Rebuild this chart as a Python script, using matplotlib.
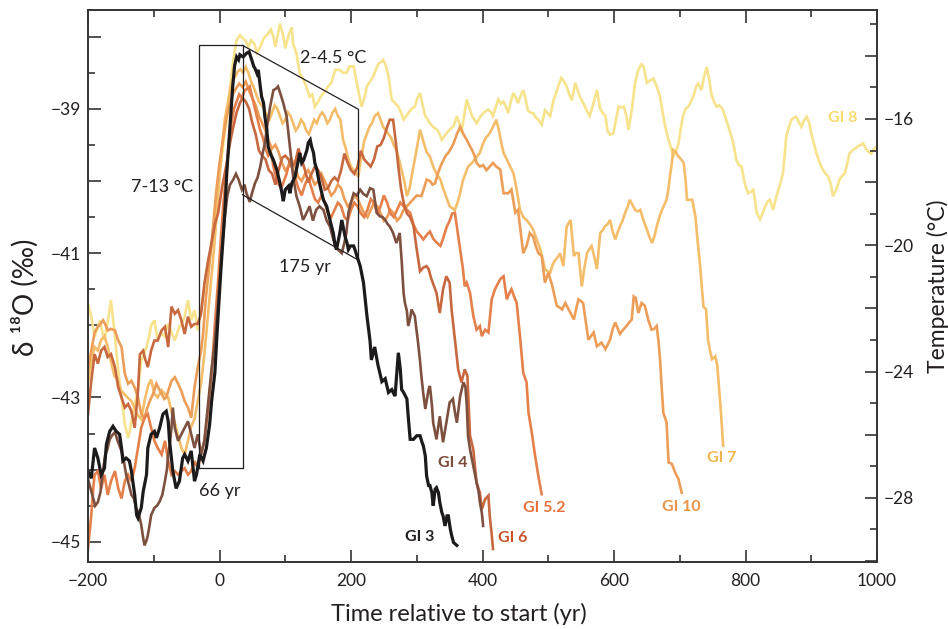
import numpy as np
import matplotlib
matplotlib.use("Agg")
import matplotlib.pyplot as plt
from matplotlib.ticker import MultipleLocator, FuncFormatter

plt.rcParams['font.family'] = ['Lato', 'DejaVu Sans']

# ---- data (time in yr, d18O in permil) ----
t3 = [-200, -195, -190, -185, -180, -175, -172, -167, -162, -157,
      -152, -149, -147, -142, -137, -134, -129, -126, -124, -119,
      -116, -111, -109, -104, -99, -96, -91, -86, -81, -78,
      -76, -71, -66, -61, -56, -53, -48, -43, -38, -35,
      -30, -25, -20, -15, -12, -7, -4, -1, 2, 5,
      8, 11, 14, 17, 20, 23, 26, 29, 31, 36,
      41, 45, 49, 52, 54, 57, 59, 62, 64, 67,
      69, 72, 74, 77, 82, 87, 92, 95, 97, 100,
      105, 107, 110, 115, 117, 120, 122, 125, 128, 133,
      135, 138, 140, 143, 145, 148, 150, 153, 158, 163,
      168, 173, 176, 178, 183, 186, 188, 191, 194, 196,
      199, 204, 206, 209, 214, 219, 224, 229, 231, 236,
      241, 247, 252, 257, 262, 264, 267, 270, 272, 275,
      277, 280, 285, 287, 290, 295, 300, 305, 308, 310,
      313, 315, 318, 320, 323, 325, 328, 330, 333, 335,
      338, 340, 343, 346, 348, 351, 353, 356, 361]
d3 = [-44.02, -44.12, -43.70, -43.84, -44.07, -43.98, -43.65, -43.47, -43.40, -43.47,
      -43.51, -43.70, -43.88, -43.84, -43.88, -44.02, -44.35, -44.63, -44.67, -44.53,
      -44.30, -44.07, -43.70, -43.51, -43.47, -43.56, -43.42, -43.23, -43.19, -43.33,
      -43.60, -44.02, -44.26, -44.16, -43.84, -43.79, -43.88, -43.74, -44.16, -44.07,
      -43.79, -43.88, -43.70, -43.37, -43.05, -42.65, -42.15, -41.70, -41.25, -40.85,
      -40.45, -39.90, -39.50, -39.10, -38.70, -38.40, -38.28, -38.32, -38.25, -38.28,
      -38.23, -38.21, -38.32, -38.41, -38.44, -38.51, -38.46, -38.69, -38.83, -38.92,
      -39.11, -39.29, -39.52, -39.61, -39.71, -39.84, -40.03, -40.17, -40.28, -40.12,
      -40.07, -40.17, -40.03, -39.94, -39.84, -39.71, -39.61, -39.75, -39.71, -39.57,
      -39.47, -39.43, -39.52, -39.61, -39.75, -39.84, -39.94, -40.07, -40.26, -40.35,
      -40.54, -40.72, -40.90, -40.95, -40.72, -40.54, -40.63, -40.77, -40.86, -40.95,
      -40.90, -40.90, -40.95, -41.04, -41.18, -41.41, -41.85, -42.22, -42.48, -42.30,
      -42.55, -42.78, -42.74, -42.93, -42.89, -42.93, -42.98, -42.61, -42.38, -42.61,
      -42.89, -42.93, -43.02, -43.26, -43.58, -43.58, -43.53, -43.53, -43.62, -43.67,
      -43.81, -44.09, -44.22, -44.22, -44.32, -44.50, -44.27, -44.25, -44.32, -44.45,
      -44.59, -44.64, -44.78, -44.64, -44.64, -44.82, -44.91, -45.01, -45.05]

t4 = [-200, -195, -189, -185, -181, -177, -174, -170, -167, -163,
      -159, -155, -150, -147, -142, -138, -134, -130, -127, -123,
      -119, -116, -114, -111, -109, -106, -104, -99, -95, -91,
      -87, -83, -80, -78, -75, -73, -71, -68, -63, -58,
      -53, -48, -43, -38, -33, -28, -23, -17, -12, -8,
      -4, 0, 4, 8, 12, 16, 21, 25, 29, 34,
      38, 41, 46, 50, 54, 58, 62, 66, 69, 73,
      77, 82, 86, 89, 93, 97, 102, 107, 112, 117,
      122, 127, 132, 137, 142, 147, 152, 158, 163, 168,
      173, 177, 180, 186, 190, 193, 196, 200, 204, 209,
      214, 219, 224, 229, 234, 239, 244, 248, 252, 256,
      259, 264, 269, 274, 277, 280, 282, 285, 287, 290,
      292, 297, 302, 305, 307, 310, 313, 318, 320, 323,
      325, 330, 335, 340, 345, 350, 355, 358, 361, 366,
      371, 374, 376, 378, 381, 386, 391, 394, 396, 399,
      401]
d4 = [-44.13, -44.30, -44.50, -44.45, -44.31, -44.00, -43.81, -43.70, -43.58, -43.52,
      -43.48, -43.60, -43.72, -43.80, -44.07, -44.20, -44.35, -44.40, -44.53, -44.60,
      -44.77, -44.95, -45.05, -44.98, -44.91, -44.75, -44.63, -44.53, -44.50, -44.44,
      -44.35, -44.16, -44.00, -43.79, -43.60, -43.42, -43.14, -43.42, -43.60, -43.51,
      -43.42, -43.33, -43.51, -43.70, -43.51, -43.79, -43.60, -43.05, -42.60, -42.30,
      -41.90, -41.40, -40.90, -40.50, -40.20, -40.05, -39.98, -39.90, -39.98, -40.12,
      -40.05, -40.17, -40.29, -40.15, -40.03, -39.95, -39.80, -39.60, -39.48, -39.20,
      -38.97, -38.74, -38.72, -38.69, -38.80, -38.92, -39.10, -39.52, -39.94, -40.21,
      -40.35, -40.54, -40.45, -40.35, -40.55, -40.40, -40.35, -40.40, -40.55, -40.63,
      -40.81, -40.92, -40.95, -41.00, -40.85, -40.72, -40.44, -40.30, -40.17, -40.20,
      -40.12, -40.18, -40.21, -40.10, -40.12, -40.44, -40.49, -40.50, -40.54, -40.60,
      -40.63, -40.72, -40.86, -40.72, -41.10, -41.55, -41.69, -41.80, -42.01, -41.90,
      -41.78, -41.87, -42.24, -42.50, -42.70, -42.95, -43.16, -42.89, -42.84, -43.10,
      -43.35, -43.58, -43.26, -43.62, -43.35, -43.07, -43.02, -43.20, -43.35, -42.98,
      -42.79, -42.85, -43.10, -43.53, -43.72, -43.95, -44.18, -44.30, -44.45, -44.60,
      -44.78]

t52 = [-200, -195, -192, -190, -185, -180, -175, -170, -165, -159,
       -154, -149, -144, -139, -134, -129, -124, -119, -114, -109,
       -104, -99, -94, -88, -83, -78, -73, -68, -63, -58,
       -53, -48, -43, -38, -33, -28, -23, -17, -12, -7,
       -2, 2, 6, 10, 14, 18, 22, 26, 30, 34,
       38, 42, 46, 50, 54, 58, 62, 66, 70, 74,
       78, 82, 86, 90, 94, 98, 102, 106, 110, 115,
       120, 125, 130, 135, 140, 145, 150, 155, 160, 165,
       170, 175, 180, 185, 190, 195, 200, 205, 210, 215,
       220, 225, 230, 235, 240, 245, 250, 255, 260, 265,
       270, 275, 280, 285, 290, 295, 300, 305, 310, 315,
       320, 325, 330, 336, 340, 345, 350, 354, 358, 362,
       366, 370, 373, 376, 381, 386, 391, 396, 399, 404,
       409, 414, 419, 424, 428, 432, 437, 441, 444, 448,
       452, 457, 462, 467, 470, 475, 480, 485, 490]
d52 = [-45.10, -44.63, -44.26, -44.07, -44.02, -44.26, -44.07, -44.35, -44.16, -44.02,
       -44.26, -44.40, -44.16, -44.07, -44.16, -43.98, -43.70, -43.42, -43.28, -43.23,
       -43.42, -43.60, -43.70, -43.79, -43.60, -43.88, -44.07, -44.02, -44.07, -44.02,
       -43.98, -44.07, -44.02, -43.88, -43.98, -43.79, -43.60, -43.14, -42.67, -41.98,
       -41.37, -40.80, -40.30, -39.90, -39.50, -39.20, -39.00, -38.90, -38.80, -38.85,
       -38.75, -38.72, -38.69, -38.85, -39.00, -39.15, -39.30, -39.40, -39.55, -39.65,
       -39.60, -39.80, -39.95, -40.05, -40.10, -40.00, -39.90, -39.75, -39.80, -39.95,
       -40.10, -40.20, -40.05, -39.95, -40.10, -40.25, -40.30, -40.20, -40.30, -40.45,
       -40.50, -40.40, -40.30, -40.35, -40.50, -40.55, -40.40, -40.30, -40.35, -40.45,
       -40.50, -40.40, -40.25, -40.30, -40.45, -40.35, -40.20, -40.30, -40.45, -40.50,
       -40.40, -40.30, -40.35, -40.40, -40.44, -40.60, -40.70, -40.75, -40.81, -40.75,
       -40.70, -40.80, -40.85, -40.90, -40.80, -40.65, -40.55, -40.45, -40.44, -40.70,
       -40.95, -41.20, -41.46, -41.41, -41.55, -41.87, -42.06, -42.01, -42.15, -42.06,
       -42.10, -41.64, -41.50, -41.41, -41.35, -41.32, -41.64, -41.55, -41.50, -41.60,
       -41.69, -42.15, -42.66, -42.79, -43.21, -43.49, -43.81, -44.09, -44.34]

t6 = [-200, -195, -190, -185, -180, -175, -170, -165, -159, -154,
      -149, -144, -139, -134, -129, -124, -121, -116, -114, -109,
      -104, -99, -94, -88, -83, -78, -73, -68, -63, -58,
      -53, -48, -43, -38, -33, -28, -23, -17, -12, -7,
      -2, 4, 11, 16, 21, 26, 31, 35, 40, 45,
      50, 55, 60, 65, 70, 75, 80, 85, 90, 95,
      100, 105, 110, 115, 120, 125, 130, 135, 140, 145,
      150, 155, 160, 165, 170, 175, 180, 185, 190, 195,
      200, 205, 210, 215, 220, 225, 230, 235, 240, 245,
      250, 255, 259, 264, 268, 272, 276, 280, 285, 290,
      295, 300, 305, 310, 315, 318, 322, 326, 330, 335,
      340, 345, 350, 353, 358, 363, 368, 373, 377, 381,
      386, 391, 396, 399, 404, 409, 411, 414, 416]
d6 = [-43.23, -42.77, -42.40, -42.53, -42.35, -42.30, -42.44, -42.40, -42.58, -42.86,
      -43.00, -43.14, -43.09, -43.19, -43.42, -42.91, -42.40, -42.35, -42.44, -42.58,
      -42.35, -42.21, -42.21, -42.07, -42.02, -42.30, -41.74, -41.84, -41.79, -41.93,
      -42.12, -41.88, -42.02, -41.98, -41.98, -41.84, -41.42, -41.09, -40.85, -40.60,
      -40.44, -40.08, -39.75, -39.47, -39.25, -39.05, -38.92, -38.85, -38.90, -39.00,
      -39.20, -39.35, -39.58, -39.65, -39.70, -39.85, -39.90, -40.05, -39.85, -39.68,
      -39.65, -39.70, -39.80, -39.75, -39.55, -39.70, -39.85, -40.02, -39.90, -39.80,
      -39.85, -39.95, -40.12, -40.10, -40.00, -39.95, -40.00, -39.85, -39.62, -39.75,
      -39.85, -39.90, -39.80, -39.58, -39.70, -39.75, -39.80, -39.70, -39.52, -39.50,
      -39.40, -39.25, -39.15, -39.15, -39.45, -39.80, -40.10, -40.30, -40.45, -40.50,
      -40.62, -40.95, -41.25, -41.20, -41.18, -41.22, -41.35, -41.45, -41.55, -41.83,
      -41.50, -41.32, -41.41, -41.78, -42.20, -42.61, -42.79, -42.61, -42.70, -43.53,
      -43.72, -44.18, -44.32, -44.55, -44.41, -44.36, -44.64, -44.90, -45.10]

t7 = [-200, -195, -190, -185, -180, -175, -170, -165, -160, -155,
      -150, -145, -140, -134, -129, -124, -119, -114, -109, -104,
      -99, -94, -88, -83, -78, -73, -68, -63, -58, -53,
      -48, -43, -38, -33, -28, -23, -18, -13, -8, -4,
      0, 4, 8, 12, 16, 20, 24, 28, 32, 36,
      40, 44, 48, 52, 56, 60, 64, 68, 72, 76,
      80, 84, 88, 92, 96, 100, 104, 108, 112, 116,
      120, 124, 128, 132, 136, 140, 144, 148, 152, 156,
      160, 164, 168, 172, 176, 180, 184, 188, 192, 196,
      200, 204, 208, 211, 215, 220, 224, 228, 232, 236,
      241, 245, 249, 253, 257, 261, 265, 269, 273, 277,
      281, 285, 289, 293, 297, 301, 305, 310, 315, 320,
      325, 330, 336, 340, 344, 350, 358, 362, 366, 370,
      374, 378, 384, 390, 396, 400, 405, 410, 416, 421,
      425, 428, 432, 437, 442, 447, 452, 457, 462, 467,
      472, 477, 482, 488, 492, 495, 499, 503, 507, 511,
      515, 518, 523, 528, 534, 539, 542, 546, 551, 555,
      559, 562, 566, 570, 574, 579, 583, 586, 590, 594,
      598, 602, 606, 609, 613, 617, 621, 624, 628, 632,
      636, 640, 645, 650, 654, 658, 662, 665, 669, 673,
      677, 680, 683, 685, 688, 690, 694, 698, 702, 706,
      709, 711, 715, 719, 724, 726, 731, 736, 740, 743,
      746, 749, 752, 754, 757, 760, 762, 766]
d7 = [-42.80, -42.50, -42.30, -42.35, -42.20, -42.15, -42.30, -42.50, -42.70, -42.75,
      -42.90, -42.95, -43.00, -43.05, -43.15, -43.25, -43.30, -43.05, -42.85, -42.75,
      -42.95, -43.00, -42.90, -42.95, -43.00, -43.20, -43.35, -43.53, -43.70, -43.79,
      -43.60, -43.40, -43.30, -43.05, -42.80, -42.40, -41.90, -41.40, -40.90, -40.40,
      -39.95, -39.50, -39.15, -38.95, -38.75, -38.60, -38.55, -38.48, -38.45, -38.50,
      -38.42, -38.50, -38.62, -38.70, -38.80, -38.90, -38.95, -39.00, -39.10, -39.15,
      -39.05, -38.95, -39.00, -39.10, -39.20, -39.15, -39.05, -39.10, -39.20, -39.30,
      -39.25, -39.15, -39.20, -39.30, -39.35, -39.25, -39.15, -39.20, -39.10, -39.05,
      -39.10, -39.20, -39.15, -39.05, -39.00, -39.10, -39.15, -39.43, -39.55, -39.70,
      -39.80, -39.85, -39.90, -39.94, -39.70, -39.45, -39.35, -39.25, -39.20, -39.10,
      -39.06, -39.15, -39.25, -39.30, -39.35, -39.40, -39.50, -39.57, -39.70, -39.85,
      -40.00, -40.21, -40.10, -39.90, -39.70, -39.50, -39.29, -39.45, -39.60, -39.66,
      -39.80, -39.90, -39.98, -40.10, -40.20, -40.35, -40.40, -40.30, -40.17, -40.00,
      -39.90, -39.80, -39.75, -39.68, -39.61, -39.50, -39.40, -39.35, -39.25, -39.15,
      -39.30, -39.45, -39.61, -39.70, -39.80, -39.89, -40.12, -40.40, -40.50, -40.54,
      -40.60, -40.67, -40.80, -40.95, -41.10, -41.22, -41.25, -41.27, -41.15, -41.09,
      -41.05, -41.00, -41.18, -40.63, -40.54, -41.04, -41.00, -41.00, -41.46, -41.20,
      -41.00, -40.95, -40.90, -41.05, -41.22, -40.72, -40.68, -40.63, -40.60, -40.54,
      -40.70, -40.81, -40.70, -40.63, -40.55, -40.44, -40.35, -40.26, -40.33, -40.40,
      -40.42, -40.40, -40.55, -40.67, -40.78, -40.86, -40.75, -40.63, -40.50, -40.40,
      -40.32, -40.26, -40.10, -39.94, -39.75, -39.57, -39.60, -39.66, -39.70, -39.75,
      -40.00, -40.26, -40.26, -40.26, -40.50, -40.72, -41.18, -41.74, -41.78, -42.20,
      -42.35, -42.47, -42.45, -42.43, -42.55, -42.90, -43.12, -43.67]

t8 = [-200, -195, -190, -186, -182, -178, -175, -170, -165, -160,
      -154, -149, -144, -139, -135, -132, -128, -124, -119, -115,
      -111, -107, -104, -99, -94, -89, -84, -78, -73, -68,
      -61, -56, -53, -48, -43, -38, -33, -28, -23, -17,
      -12, -7, -3, 0, 3, 7, 11, 15, 19, 23,
      26, 31, 35, 39, 44, 48, 53, 57, 62, 66,
      69, 74, 78, 82, 85, 89, 92, 96, 100, 105,
      110, 112, 117, 122, 127, 132, 137, 141, 145, 150,
      154, 158, 162, 165, 170, 176, 183, 188, 193, 198,
      204, 208, 211, 216, 221, 224, 229, 234, 238, 242,
      246, 249, 253, 257, 262, 267, 272, 276, 280, 284,
      287, 292, 297, 301, 305, 309, 313, 317, 320, 325,
      331, 335, 338, 342, 346, 351, 356, 361, 365, 368,
      372, 376, 380, 384, 388, 391, 396, 401, 405, 409,
      413, 416, 420, 424, 428, 432, 436, 439, 443, 447,
      451, 454, 458, 462, 466, 469, 473, 477, 481, 485,
      490, 495, 499, 503, 508, 512, 515, 520, 524, 528,
      532, 536, 541, 544, 548, 552, 556, 560, 563, 568,
      574, 579, 583, 587, 590, 594, 599, 603, 607, 611,
      615, 619, 622, 627, 632, 637, 642, 645, 650, 656,
      660, 665, 670, 674, 678, 682, 686, 690, 694, 698,
      702, 705, 709, 713, 717, 721, 725, 728, 733, 737,
      741, 745, 748, 752, 756, 760, 765, 771, 775, 779,
      783, 786, 790, 794, 797, 800, 804, 808, 812, 815,
      817, 822, 826, 830, 834, 837, 842, 846, 850, 854,
      857, 860, 862, 866, 870, 874, 877, 881, 885, 889,
      893, 897, 900, 904, 908, 913, 918, 922, 926, 930,
      933, 938, 943, 947, 951, 955, 958, 963, 967, 971,
      975, 979, 984, 988, 991, 995, 1000]
d8 = [-41.70, -41.88, -42.16, -42.05, -41.93, -42.10, -42.20, -41.95, -41.65, -42.07,
      -42.63, -43.00, -43.37, -43.56, -43.40, -43.23, -43.05, -42.90, -42.49, -42.40,
      -42.30, -42.15, -42.00, -41.93, -42.21, -42.10, -42.15, -41.98, -42.10, -42.21,
      -42.02, -41.95, -41.88, -41.65, -41.93, -41.79, -42.07, -41.79, -41.51, -41.09,
      -40.90, -40.77, -40.20, -39.90, -39.70, -39.40, -39.15, -38.80, -38.46, -38.20,
      -38.05, -37.98, -38.02, -38.05, -38.14, -38.05, -38.10, -38.22, -38.14, -38.05,
      -38.00, -37.96, -37.90, -38.00, -38.14, -37.96, -37.82, -37.95, -38.16, -37.98,
      -37.87, -38.10, -38.23, -38.51, -38.58, -38.69, -38.83, -38.80, -38.97, -38.90,
      -38.83, -38.78, -38.74, -38.69, -38.64, -38.46, -38.46, -38.50, -38.50, -38.41,
      -38.41, -38.60, -38.74, -38.97, -38.83, -38.69, -38.62, -38.55, -38.45, -38.37,
      -38.35, -38.32, -38.40, -38.55, -38.87, -38.92, -38.97, -39.05, -39.15, -39.10,
      -39.06, -39.00, -38.97, -38.85, -38.78, -38.95, -39.10, -39.15, -39.20, -39.25,
      -39.29, -39.35, -39.43, -39.38, -39.33, -39.28, -39.24, -39.10, -39.20, -39.33,
      -39.10, -38.87, -38.98, -39.10, -39.15, -39.20, -39.12, -39.06, -39.03, -39.01,
      -39.05, -39.10, -38.98, -38.87, -38.93, -38.90, -38.98, -39.06, -38.90, -38.78,
      -38.85, -38.92, -38.82, -38.74, -38.88, -39.02, -39.05, -39.06, -39.12, -39.15,
      -39.22, -39.02, -39.06, -39.10, -38.88, -38.78, -38.69, -38.57, -38.62, -38.69,
      -38.80, -38.88, -38.64, -38.72, -38.83, -38.90, -38.97, -39.05, -39.10, -38.95,
      -38.74, -39.00, -39.06, -39.10, -39.30, -39.36, -39.34, -39.15, -38.97, -38.98,
      -38.97, -39.10, -39.29, -39.02, -38.64, -38.46, -38.38, -38.41, -38.64, -38.60,
      -38.58, -38.69, -38.83, -39.05, -39.25, -39.40, -39.52, -39.66, -39.60, -39.48,
      -39.25, -39.10, -39.00, -38.97, -38.90, -38.82, -38.69, -38.65, -38.74, -38.55,
      -38.42, -38.60, -38.79, -38.90, -38.97, -38.95, -39.00, -39.16, -39.28, -39.39,
      -39.55, -39.71, -39.78, -39.80, -39.95, -40.07, -40.17, -40.15, -40.12, -40.30,
      -40.44, -40.53, -40.45, -40.35, -40.28, -40.26, -40.40, -40.25, -40.12, -40.00,
      -39.89, -39.60, -39.38, -39.25, -39.15, -39.12, -39.11, -39.18, -39.25, -39.16,
      -39.11, -39.20, -39.34, -39.48, -39.62, -39.75, -39.85, -39.90, -39.94, -40.05,
      -40.21, -40.12, -39.98, -39.93, -39.89, -39.75, -39.62, -39.57, -39.55, -39.52,
      -39.50, -39.48, -39.57, -39.60, -39.62, -39.56, -39.52]

t10 = [-200, -195, -190, -185, -181, -177, -173, -170, -165, -159,
       -154, -149, -144, -139, -134, -129, -124, -119, -114, -110,
       -106, -101, -96, -92, -88, -84, -81, -77, -73, -68,
       -63, -58, -53, -48, -43, -38, -33, -28, -25, -21,
       -17, -13, -9, -5, 0, 5, 10, 15, 20, 25,
       30, 35, 40, 45, 50, 55, 60, 65, 70, 75,
       80, 85, 90, 95, 100, 105, 110, 115, 120, 125,
       130, 135, 140, 145, 150, 155, 160, 165, 170, 175,
       180, 185, 190, 195, 200, 205, 210, 215, 220, 225,
       230, 235, 240, 245, 250, 255, 260, 265, 270, 275,
       280, 285, 290, 295, 300, 307, 311, 315, 320, 324,
       328, 332, 336, 340, 344, 348, 352, 356, 361, 366,
       371, 376, 380, 384, 388, 391, 396, 401, 406, 411,
       416, 421, 427, 432, 439, 444, 450, 454, 458, 462,
       467, 472, 477, 481, 485, 490, 495, 500, 506, 513,
       517, 521, 526, 531, 535, 539, 543, 546, 553, 557,
       561, 565, 569, 574, 581, 587, 594, 598, 602, 606,
       609, 614, 619, 624, 627, 630, 633, 637, 642, 647,
       652, 657, 661, 665, 668, 670, 673, 675, 680, 683,
       688, 693, 698, 703]
d10 = [-42.60, -42.35, -42.10, -42.02, -41.98, -41.93, -42.00, -42.07, -42.05, -42.07,
       -42.21, -42.30, -42.67, -42.81, -42.77, -42.86, -43.00, -43.23, -43.28, -43.15,
       -43.05, -42.95, -42.81, -42.88, -42.95, -43.02, -43.00, -42.88, -42.77, -42.72,
       -42.81, -42.91, -43.05, -43.14, -43.28, -42.86, -42.58, -42.35, -42.12, -41.65,
       -41.30, -40.95, -40.55, -40.15, -39.75, -39.45, -39.15, -38.95, -38.80, -38.72,
       -38.65, -38.70, -38.62, -38.75, -38.85, -38.95, -39.10, -39.20, -39.30, -39.45,
       -39.55, -39.50, -39.60, -39.75, -39.85, -39.80, -39.70, -39.80, -39.95, -40.00,
       -39.90, -39.85, -39.95, -40.05, -40.00, -39.90, -40.00, -40.10, -40.20, -40.15,
       -40.05, -40.10, -40.25, -40.35, -40.30, -40.20, -40.25, -40.35, -40.45, -40.50,
       -40.40, -40.30, -40.35, -40.45, -40.55, -40.50, -40.40, -40.45, -40.55, -40.50,
       -40.40, -40.35, -40.30, -40.25, -40.20, -40.21, -40.10, -39.98, -40.00, -40.05,
       -40.03, -39.90, -39.80, -39.72, -39.65, -39.61, -39.55, -39.48, -39.35, -39.25,
       -39.35, -39.43, -39.50, -39.57, -39.65, -39.75, -39.80, -39.78, -39.85, -39.80,
       -39.75, -39.80, -39.84, -40.17, -40.17, -40.12, -40.44, -40.40, -40.70, -41.00,
       -40.90, -40.72, -40.77, -40.90, -41.00, -41.04, -41.41, -41.27, -41.45, -41.73,
       -41.75, -41.78, -41.69, -41.78, -41.85, -41.92, -41.75, -41.64, -41.69, -41.95,
       -42.20, -42.15, -42.10, -42.29, -42.24, -42.33, -42.20, -42.05, -41.96, -42.05,
       -42.12, -42.06, -42.01, -41.95, -41.92, -41.60, -41.62, -41.83, -41.69, -41.73,
       -41.92, -42.06, -42.05, -42.01, -42.25, -42.47, -42.93, -43.21, -43.35, -43.90,
       -43.92, -44.04, -44.13, -44.32]

labels = ['GI 8', 'GI 7', 'GI 10', 'GI 5.2', 'GI 6', 'GI 4', 'GI 3']
line_colors = ['#f6e38c', '#f3bd6a', '#ec9d57', '#e5804b', '#c8683f', '#7d5040', '#1c1a1a']
label_colors = ['#f5dc6e', '#f2b550', '#eb9349', '#e7713c', '#c8532b', '#7b4b3a', '#231f20']
label_t = [948, 764, 703, 494, 446, 354, 305]
label_d = [-39.12, -43.84, -44.52, -44.53, -44.95, -43.91, -44.93]

# annotation brackets (onset box + decline parallelogram)
box_t = [-31, -31, 35, 35, -31]
box_d = [-43.98, -38.12, -38.12, -43.98, -43.98]
para_t = [35, 210, 210, 35]
para_d = [-38.12, -39.0, -41.09, -40.19]

series = [(t8, d8), (t7, d7), (t10, d10), (t52, d52), (t6, d6), (t4, d4), (t3, d3)]

fig = plt.figure(figsize=(9.48, 6.29), dpi=100)
ax = fig.add_axes([88 / 948, 67 / 629, 789 / 948, 552 / 629])
ax.set_xlim(-200, 1000)
ax.set_ylim(-45.28, -37.63)

for (t, d), c, lab in zip(series, line_colors, labels):
    lw = 2.3 if lab == 'GI 3' else 1.9
    ax.plot(t, d, color=c, lw=lw, solid_joinstyle='miter')

for lab, c, x, y in zip(labels, label_colors, label_t, label_d):
    ax.text(x, y, lab, color=c, fontsize=11.5, fontweight='bold', ha='center', va='center')

ax.plot(box_t, box_d, color='#231f20', lw=0.9)
ax.plot(para_t[:2], para_d[:2], color='#231f20', lw=0.9)
ax.plot(para_t[1:3], para_d[1:3], color='#231f20', lw=0.9)
ax.plot([para_t[3], para_t[2]], [para_d[3], para_d[2]], color='#231f20', lw=0.9)

txt = dict(color='#231f20', fontsize=13, ha='center', va='center')
ax.text(173, -38.29, '2-4.5 \u00b0C', **txt)
ax.text(-88, -40.08, '7-13 \u00b0C', **txt)
ax.text(130, -41.19, '175 yr', **txt)
ax.text(0, -44.30, '66 yr', **txt)

# axes styling
for s in ax.spines.values():
    s.set_color('#333333')
    s.set_linewidth(1.2)

ax.xaxis.set_major_locator(MultipleLocator(200))
ax.xaxis.set_minor_locator(MultipleLocator(100))
ax.yaxis.set_major_locator(MultipleLocator(1))
ax.yaxis.set_minor_locator(MultipleLocator(0.5))
ax.xaxis.set_major_formatter(FuncFormatter(lambda v, p: f'\u2212{abs(int(v))}' if v < 0 else f'{int(v)}'))
ax.yaxis.set_major_formatter(FuncFormatter(
    lambda v, p: f'\u2212{abs(int(round(v)))}' if int(round(v)) % 2 else ''))
ax.tick_params(which='both', direction='in', top=True, right=False, color='#333333',
               width=1.2, labelcolor='#231f20', labelsize=12.5)
ax.tick_params(which='major', length=9)
ax.tick_params(which='minor', length=5)
ax.tick_params(axis='x', pad=8)
ax.tick_params(axis='y', pad=5)

ax2 = ax.twinx()
ax2.set_ylim(-30.03, -12.55)
ax2.yaxis.set_major_locator(MultipleLocator(2))
ax2.yaxis.set_minor_locator(MultipleLocator(1))
ax2.yaxis.set_major_formatter(FuncFormatter(
    lambda v, p: f'\u2212{abs(int(round(v)))}' if int(round(v)) % 4 == 0 else ''))
ax2.tick_params(which='both', direction='in', color='#333333', width=1.2,
                labelcolor='#231f20', labelsize=12.5, pad=5)
ax2.tick_params(which='major', length=9)
ax2.tick_params(which='minor', length=5)
for s in ax2.spines.values():
    s.set_color('#333333')
    s.set_linewidth(1.2)

ax.set_xlabel('Time relative to start (yr)', fontsize=17, color='#231f20')
ax.xaxis.set_label_coords(0.47, -0.074)
ax.set_ylabel('\u03b4 \u00b9\u2078O (\u2030)', fontsize=20, color='#231f20')
ax.yaxis.set_label_coords(-0.062, 0.48)
ax2.set_ylabel('Temperature (\u00b0C)', fontsize=16.5, color='#231f20', labelpad=9)

fig.savefig('out.png', dpi=100)
